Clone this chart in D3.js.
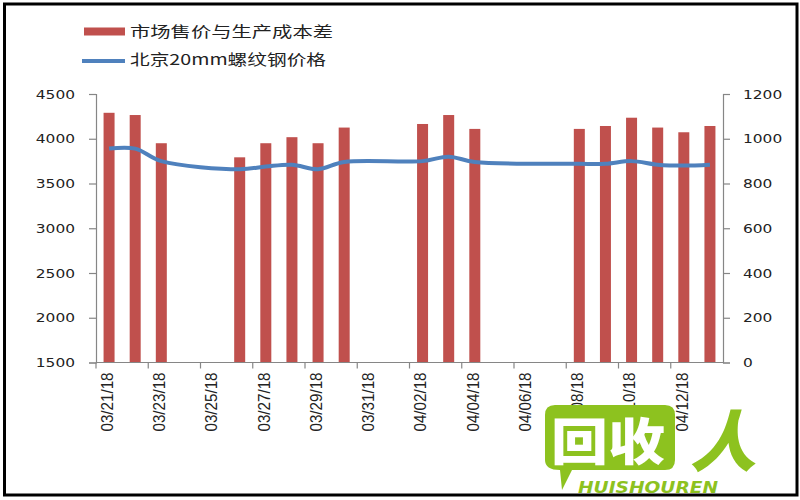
<!DOCTYPE html>
<html><head><meta charset="utf-8">
<script src="https://cdn.jsdelivr.net/npm/d3@7"></script>
<style>html,body{margin:0;padding:0;background:#fff;}svg{display:block;}</style>
</head><body>
<svg id="chart" width="800" height="500"></svg>
<script>
// ---- data ----
const allDays = ["03/21/18","03/22/18","03/23/18","03/24/18","03/25/18","03/26/18","03/27/18","03/28/18","03/29/18","03/30/18","03/31/18","04/01/18","04/02/18","04/03/18","04/04/18","04/05/18","04/06/18","04/07/18","04/08/18","04/09/18","04/10/18","04/11/18","04/12/18","04/13/18"];
const tradeDays = ["03/21/18","03/22/18","03/23/18","03/26/18","03/27/18","03/28/18","03/29/18","03/30/18","04/02/18","04/03/18","04/04/18","04/08/18","04/09/18","04/10/18","04/11/18","04/12/18","04/13/18"];
const spreadValues = [1116,1106,980,917,980,1007,980,1050,1066,1106,1044,1044,1057,1094,1050,1029,1057];
const priceValues = [3890,3890,3750,3660,3690,3710,3660,3740,3750,3800,3740,3720,3720,3750,3710,3700,3710];
const tickLabels = ["03/21/18","03/23/18","03/25/18","03/27/18","03/29/18","03/31/18","04/02/18","04/04/18","04/06/18","04/08/18","04/10/18","04/12/18"];
const leftTicks = [1500,2000,2500,3000,3500,4000,4500];
const rightTicks = [0,200,400,600,800,1000,1200];
const seriesNames = ["市场售价与生产成本差","北京20mm螺纹钢价格"];

const svg = d3.select("#chart");
svg.append("rect").attr("width",800).attr("height",500).attr("fill","#fff");

const L = 96, R = 723, T = 94, B = 362.5;
const x = d3.scaleBand().domain(allDays).range([L, R]).padding(0);
const bw = x.bandwidth();
const yL = d3.scaleLinear().domain([1500,4500]).range([B, T]);
const yR = d3.scaleLinear().domain([0,1200]).range([B, T]);
const axisColor = "#868686";

// bars (right axis)
const barW = 11;
svg.append("g").selectAll("rect").data(tradeDays).join("rect")
  .attr("x", d => x(d) + (bw - barW)/2)
  .attr("width", barW)
  .attr("y", (d,i) => yR(spreadValues[i]))
  .attr("height", (d,i) => B - yR(spreadValues[i]))
  .attr("fill", "#C0504D");

// line (left axis)
const line = d3.line()
  .x((d,i) => x(tradeDays[i]) + bw/2)
  .y(d => yL(d))
  .curve(d3.curveCatmullRom.alpha(0.5));
svg.append("path").datum(priceValues)
  .attr("d", line).attr("fill","none")
  .attr("stroke","#4F81BD").attr("stroke-width",4).attr("stroke-linejoin","round");

// left axis
const gL = svg.append("g").attr("transform",`translate(${L},0)`)
  .call(d3.axisLeft(yL).tickValues(leftTicks).tickSize(7).tickPadding(14).tickFormat(d3.format("d")));
// right axis
const gR = svg.append("g").attr("transform",`translate(${R},0)`)
  .call(d3.axisRight(yR).tickValues(rightTicks).tickSize(7).tickPadding(13).tickFormat(d3.format("d")));
[gL,gR].forEach(g => {
  g.select(".domain").attr("stroke",axisColor).attr("stroke-width",1.2);
  g.selectAll(".tick line").attr("stroke",axisColor).attr("stroke-width",1.2);
  g.selectAll(".tick text")
    .attr("font-family","DejaVu Sans, Verdana, sans-serif").attr("font-size",13)
    .attr("fill","#222")
    .attr("textLength", function(){ return this.textContent.length * 9.8; })
    .attr("lengthAdjust","spacingAndGlyphs");
});

// bottom axis
const gB = svg.append("g").attr("transform",`translate(0,${B})`)
  .call(d3.axisBottom(x).tickValues(tickLabels).tickSize(6).tickFormat(d => d));
gB.select(".domain").attr("stroke",axisColor).attr("stroke-width",1.2).attr("d",`M${L},0H${R}`);
gB.selectAll(".tick line").attr("stroke",axisColor).attr("stroke-width",1.2)
  .attr("transform",`translate(${-bw/2},0)`);
gB.selectAll(".tick text")
  .attr("font-family","Liberation Sans, Arial, sans-serif").attr("font-size",16)
  .attr("fill","#222")
  .attr("text-anchor","end")
  .attr("transform","translate(-2,10) rotate(-90)")
  .attr("x",0).attr("y",0).attr("dy","0.36em")
  .attr("textLength",59).attr("lengthAdjust","spacingAndGlyphs");

// legend
const lg = svg.append("g");
lg.append("rect").attr("x",84).attr("y",27.5).attr("width",41).attr("height",8).attr("fill","#C0504D");
lg.append("line").attr("x1",82).attr("x2",125).attr("y1",61).attr("y2",61)
  .attr("stroke","#4F81BD").attr("stroke-width",4);
lg.selectAll("text").data(seriesNames).join("text")
  .attr("x",130).attr("y",(d,i) => i ? 64.5 : 37)
  .attr("font-family","Noto Sans CJK SC, sans-serif").attr("font-size",15)
  .attr("fill","#222")
  .attr("textLength",(d,i) => i ? 196 : 203).attr("lengthAdjust","spacingAndGlyphs")
  .text(d => d);

// watermark
const wm = svg.append("g");
const green = "#8DC21F";
wm.append("path")
  .attr("d","M555,405 H665 Q675,405 675,415 V460 Q675,470 665,470 H572 L562,490 L560,470 Q545,470 545,460 V415 Q545,405 555,405 Z")
  .attr("fill",green);
wm.append("text").attr("x",551).attr("y",460)
  .attr("font-family","Noto Sans CJK SC, sans-serif").attr("font-weight",900).attr("font-size",50)
  .attr("fill","#fff").attr("textLength",114).attr("lengthAdjust","spacingAndGlyphs").text("回收");
wm.append("text").attr("x",690).attr("y",466)
  .attr("font-family","Noto Sans CJK SC, sans-serif").attr("font-weight",900).attr("font-size",66)
  .attr("font-style","italic")
  .attr("fill",green).text("人");
wm.append("text").attr("x",578).attr("y",493)
  .attr("font-family","DejaVu Sans, sans-serif").attr("font-weight","bold").attr("font-style","italic").attr("font-size",16)
  .attr("fill",green).attr("textLength",140).attr("lengthAdjust","spacingAndGlyphs").text("HUISHOUREN");

// frame
svg.append("rect").attr("x",4.5).attr("y",4).attr("width",792.5).attr("height",491)
  .attr("fill","none").attr("stroke","#000").attr("stroke-width",3);
</script>
</body></html>
